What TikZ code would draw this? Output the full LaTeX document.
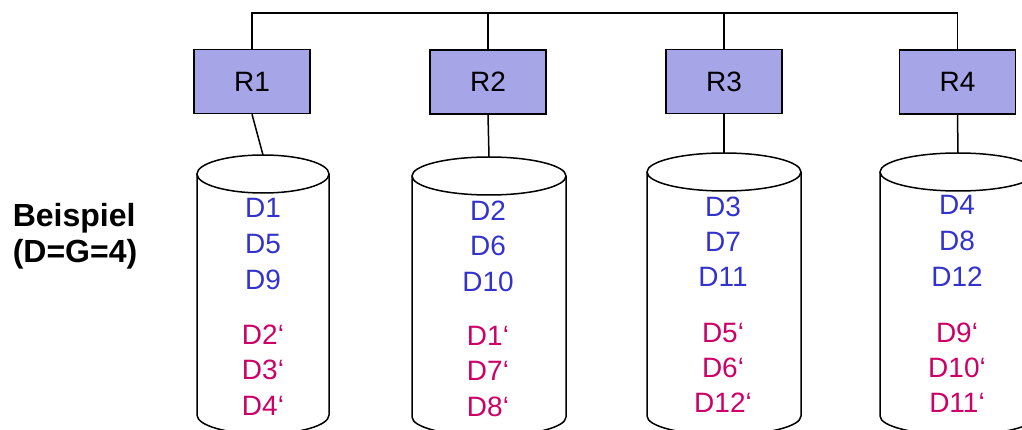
\documentclass[tikz,border=0pt]{standalone}
\usepackage{fontspec}
\setmainfont{Liberation Sans}
\definecolor{boxfill}{RGB}{165,165,232}
\definecolor{dblue}{RGB}{51,51,204}
\definecolor{dmag}{RGB}{204,0,102}
\newcommand\mycyl[4]{%
  \draw (#1-#3,-#2) -- (#1-#3,-#4) arc[start angle=180,end angle=360,x radius=#3,y radius=19] -- (#1+#3,-#2);
  \draw (#1,-#2) ellipse[x radius=#3,y radius=19];}
\begin{document}
\begin{tikzpicture}[x=1pt,y=1pt,line width=1.5pt,
  rbox/.style={draw,fill=boxfill,minimum width=116pt,minimum height=64pt,inner sep=0pt,font=\fontsize{28}{32}\selectfont},
  lbl/.style={inner sep=0pt,text height=20pt,text depth=0pt,font=\fontsize{28}{32}\selectfont},
  prim/.style={lbl,text=dblue},
  sec/.style={lbl,text=dmag},
  title/.style={inner sep=0pt,anchor=west,text height=23pt,text depth=0pt,font=\fontsize{32}{36}\selectfont\bfseries}]
\useasboundingbox (0,0) rectangle (1022,-430);
% routers
\node[rbox] (R1) at (252,-81.5) {R1};
\node[rbox] (R2) at (488,-82) {R2};
\node[rbox] (R3) at (724,-81.5) {R3};
\node[rbox] (R4) at (957.5,-82) {R4};
% bus
\coordinate (b1) at (252,-13);
\coordinate (b2) at (488,-13);
\coordinate (b3) at (724,-13);
\coordinate (b4) at (957.5,-13);
\draw (R1.north) -- (b1) -- (b4) -- (R4.north);
\draw (R2.north) -- (b2);
\draw (R3.north) -- (b3);
% disks
\mycyl{263}{174}{66}{415}
\mycyl{489}{176}{77}{417}
\mycyl{724}{172}{77}{416}
\mycyl{958}{172}{78}{416}
\coordinate (c1) at (263,-155);
\coordinate (c2) at (489,-157);
\coordinate (c3) at (724,-153);
\coordinate (c4) at (958,-153);
\draw (R1.south) -- (c1);
\draw (R2.south) -- (c2);
\draw (R3.south) -- (c3);
\draw (R4.south) -- (c4);
% disk contents
\node[prim] (d11) at (263,-208) {D1};
\node[prim] (d12) at (263,-244) {D5};
\node[prim] (d13) at (263,-279) {D9};
\node[sec]  (d14) at (263,-334) {D2‘};
\node[sec]  (d15) at (263,-369) {D3‘};
\node[sec]  (d16) at (263,-405) {D4‘};
\node[prim] (d21) at (488,-211) {D2};
\node[prim] (d22) at (488,-246) {D6};
\node[prim] (d23) at (488,-281) {D10};
\node[sec]  (d24) at (488,-335) {D1‘};
\node[sec]  (d25) at (488,-370) {D7‘};
\node[sec]  (d26) at (488,-406) {D8‘};
\node[prim] (d31) at (723,-207) {D3};
\node[prim] (d32) at (723,-242) {D7};
\node[prim] (d33) at (723,-276) {D11};
\node[sec]  (d34) at (723,-332) {D5‘};
\node[sec]  (d35) at (723,-367) {D6‘};
\node[sec]  (d36) at (723,-402) {D12‘};
\node[prim] (d41) at (957,-205) {D4};
\node[prim] (d42) at (957,-241) {D8};
\node[prim] (d43) at (957,-276) {D12};
\node[sec]  (d44) at (957,-332) {D9‘};
\node[sec]  (d45) at (957,-367) {D10‘};
\node[sec]  (d46) at (957,-402) {D11‘};
% caption
\node[title] (t1) at (12,-215) {Beispiel};
\node[title] (t2) at (12,-251) {(D=G=4)};
\end{tikzpicture}
\end{document}
